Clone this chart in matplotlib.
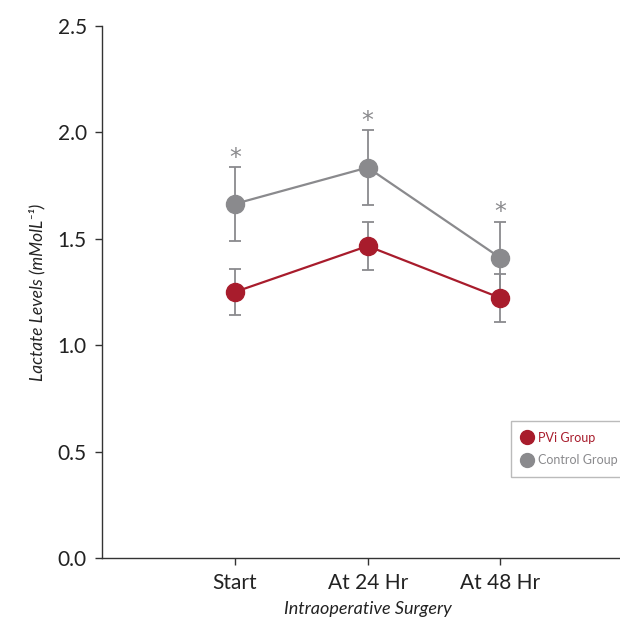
import matplotlib
matplotlib.use("Agg")
import matplotlib.pyplot as plt
from matplotlib.lines import Line2D

plt.rcParams['font.family'] = ['Lato', 'DejaVu Sans']

categories = ["Start", "At 24 Hr", "At 48 Hr"]
pvi_mean = [1.25, 1.466, 1.222]
pvi_err = [0.11, 0.113, 0.112]
ctrl_mean = [1.664, 1.835, 1.41]
ctrl_err = [0.172, 0.175, 0.17]
significant = [True, True, True]
yticks = [0.0, 0.5, 1.0, 1.5, 2.0, 2.5]
series_names = ["PVi Group", "Control Group"]

red = "#a81c2c"
gray = "#8a8a8d"

fig = plt.figure(figsize=(6.2, 6.27), dpi=100)
ax = fig.add_axes([102 / 620, 69 / 627, 1 - 102 / 620, 532 / 627])

x = [1, 2, 3]
ax.errorbar(x, ctrl_mean, yerr=ctrl_err, color=gray, ecolor=gray, lw=1.6,
            elinewidth=1.3, capsize=4, capthick=1.3, marker='o', ms=13,
            mec=gray, mfc=gray, zorder=2)
ax.errorbar(x, pvi_mean, yerr=pvi_err, color=red, ecolor=gray, lw=1.6,
            elinewidth=1.3, capsize=4, capthick=1.3, marker='o', ms=13,
            mec=red, mfc=red, zorder=3)

for xi, m, e, s in zip(x, ctrl_mean, ctrl_err, significant):
    if s:
        ax.text(xi, m + e + 0.045, "*", ha='center', va='center',
                color=gray, fontsize=17, family='DejaVu Sans')

ax.set_xlim(0, 3.9)
ax.set_ylim(0, 2.5)
ax.set_xticks(x)
ax.set_xticklabels(categories, fontsize=15, color="#222222")
ax.set_yticks(yticks)
ax.set_yticklabels([f"{v:.1f}" for v in yticks], fontsize=15, color="#222222")

for side in ("top", "right"):
    ax.spines[side].set_visible(False)
for side in ("left", "bottom"):
    ax.spines[side].set_color("#333333")
    ax.spines[side].set_linewidth(1.0)
ax.tick_params(axis='both', direction='out', length=5, width=1.0,
               color="#333333", pad=6)

ax.set_xlabel("Intraoperative Surgery", fontsize=13, style='italic',
              color="#222222")
ax.xaxis.set_label_coords(2, -0.08, transform=ax.get_xaxis_transform())
ax.set_ylabel("Lactate Levels (mMolL⁻¹)", fontsize=12.5, style='italic',
              color="#222222")
ax.yaxis.set_label_coords(-0.11, 0.5)

handles = [Line2D([], [], ls='none', marker='o', ms=10, mfc=c, mec=c)
           for c in (red, gray)]
leg = fig.legend(handles, series_names,
                 loc='upper left', bbox_to_anchor=(511 / 620, 1 - 421 / 627),
                 frameon=True, fancybox=False, fontsize=9, handlelength=0.8,
                 handletextpad=0.5, borderpad=0.85, labelspacing=0.85,
                 borderaxespad=0)
leg.get_frame().set_edgecolor("#aaaaaa")
leg.get_frame().set_linewidth(1.0)
for txt, c in zip(leg.get_texts(), [red, gray]):
    txt.set_color(c)

fig.savefig("out.png", dpi=100)
